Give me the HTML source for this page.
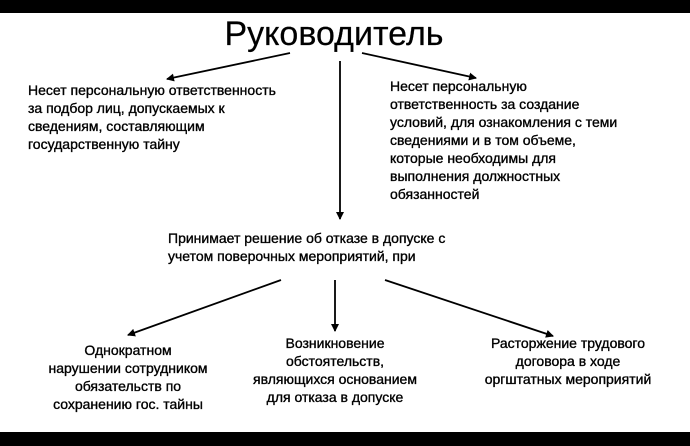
<!DOCTYPE html>
<html><head><meta charset="utf-8"><style>
body{margin:0;width:690px;height:446px;background:#fff;position:relative;overflow:hidden;font-family:"Liberation Sans",Arial,sans-serif;color:#000}
.bar{position:absolute;left:0;width:690px;background:#000}
.t{position:absolute;font-size:14px;line-height:18px;white-space:nowrap;-webkit-text-stroke:0.35px #000}
.c{text-align:center}
</style></head><body>
<div class="bar" style="top:0;height:13px"></div>
<div class="bar" style="top:432px;height:14px"></div>
<div class="t" style="left:0;width:668px;top:13px;font-size:34px;line-height:42px;text-align:center;-webkit-text-stroke:0.2px #000">Руководитель</div>
<svg width="690" height="446" style="position:absolute;left:0;top:0">
<defs><marker id="a" markerWidth="8" markerHeight="8" refX="7" refY="4" orient="auto" markerUnits="userSpaceOnUse"><path d="M0,0 L8,4 L0,8 z" fill="#000"/></marker></defs>
<g stroke="#000" stroke-width="1.8" fill="none" marker-end="url(#a)">
<line x1="290" y1="53" x2="167" y2="79"/>
<line x1="362" y1="53" x2="476" y2="78"/>
<line x1="340" y1="61" x2="340" y2="219"/>
<line x1="281" y1="280" x2="128" y2="335"/>
<line x1="335" y1="280" x2="335" y2="331"/>
<line x1="385" y1="280" x2="553" y2="336"/>
</g></svg>
<div class="t" style="left:28px;top:81px">Несет персональную ответственность<br>за подбор лиц, допускаемых к<br>сведениям, составляющим<br>государственную тайну</div>
<div class="t" style="left:390px;top:77px">Несет персональную<br>ответственность за создание<br>условий, для ознакомления с теми<br>сведениями и в том объеме,<br>которые необходимы для<br>выполнения должностных<br>обязанностей</div>
<div class="t" style="left:168px;top:229px">Принимает решение об отказе в допуске с<br>учетом поверочных мероприятий, при</div>
<div class="t c" style="left:28px;width:200px;top:341px">Однократном<br>нарушении сотрудником<br>обязательств по<br>сохранению гос. тайны</div>
<div class="t c" style="left:235px;width:200px;top:334px">Возникновение<br>обстоятельств,<br>являющихся основанием<br>для отказа в допуске</div>
<div class="t c" style="left:463px;width:210px;top:334px">Расторжение трудового<br>договора в ходе<br>оргштатных мероприятий</div>
</body></html>
